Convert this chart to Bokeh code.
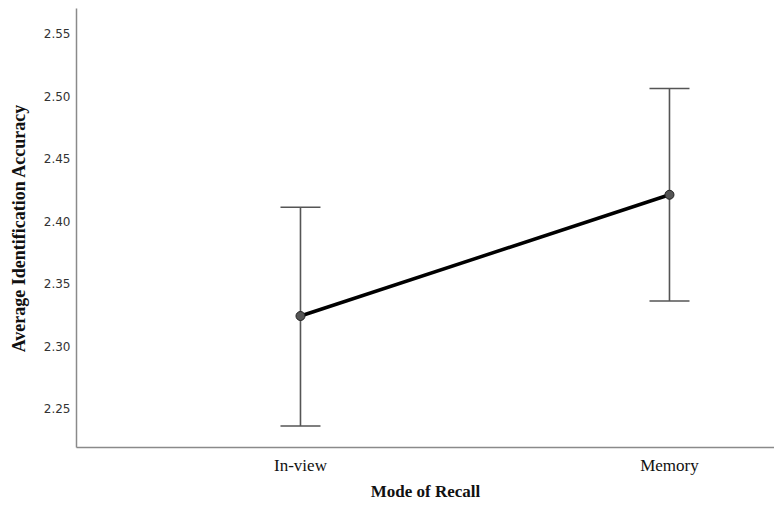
from bokeh.plotting import figure
from bokeh.models import ColumnDataSource, Whisker, TeeHead, FixedTicker, Range1d, CustomJSTickFormatter
from bokeh.embed import file_html
from bokeh.resources import INLINE

modes = ["In-view", "Memory"]
xpos = [0, 1]
means = [2.324, 2.421]
upper = [2.411, 2.506]
lower = [2.236, 2.336]
yticks = [2.25, 2.30, 2.35, 2.40, 2.45, 2.50, 2.55]

src = ColumnDataSource(dict(x=xpos, mean=means, upper=upper, lower=lower))

p = figure(width=774, height=504, output_backend="svg", toolbar_location=None,
           x_range=Range1d(-0.607, 1.2846), y_range=Range1d(2.2188, 2.57),
           min_border_left=76, min_border_right=0, min_border_top=8, min_border_bottom=57)
p.outline_line_color = None
p.xgrid.visible = False
p.ygrid.visible = False
p.background_fill_color = "white"

w = Whisker(base="x", upper="upper", lower="lower", source=src,
            line_color="#555555", line_width=1.6,
            upper_head=TeeHead(size=40, line_color="#555555", line_width=1.6),
            lower_head=TeeHead(size=40, line_color="#555555", line_width=1.6))
p.add_layout(w)

p.line("x", "mean", source=src, line_color="black", line_width=3.5)
p.scatter("x", "mean", source=src, size=9, fill_color="#555555", line_color="#222222", line_width=1)

# axes
p.xaxis.ticker = FixedTicker(ticks=xpos)
p.xaxis.major_label_overrides = {x: m for x, m in zip(xpos, modes)}
p.yaxis.ticker = FixedTicker(ticks=yticks)
p.yaxis.formatter = CustomJSTickFormatter(code="return tick.toFixed(2);")

for ax in (p.xaxis[0], p.yaxis[0]):
    ax.axis_line_color = "#8a8a8a"
    ax.axis_line_width = 1.5
    ax.major_tick_line_color = None
    ax.minor_tick_line_color = None
    ax.major_tick_out = 0
    ax.major_tick_in = 0
    ax.minor_tick_out = 0

p.yaxis.major_label_text_font = "DejaVu Sans"
p.yaxis.major_label_text_font_size = "12px"
p.yaxis.major_label_text_color = "#333333"
p.yaxis.major_label_standoff = 6
p.yaxis.axis_label = "Average Identification Accuracy"
p.yaxis.axis_label_text_font = "Liberation Serif"
p.yaxis.axis_label_text_font_style = "bold"
p.yaxis.axis_label_text_font_size = "18px"
p.yaxis.axis_label_text_color = "#111111"
p.yaxis.axis_label_standoff = 12

p.xaxis.major_label_text_font = "Liberation Serif"
p.xaxis.major_label_text_font_size = "17px"
p.xaxis.major_label_text_color = "#111111"
p.xaxis.major_label_standoff = 8
p.xaxis.axis_label = "Mode of Recall"
p.xaxis.axis_label_text_font = "Liberation Serif"
p.xaxis.axis_label_text_font_style = "bold"
p.xaxis.axis_label_text_font_size = "17px"
p.xaxis.axis_label_text_color = "#111111"
p.xaxis.axis_label_standoff = 4

open("out.html", "w").write(file_html(p, INLINE))
